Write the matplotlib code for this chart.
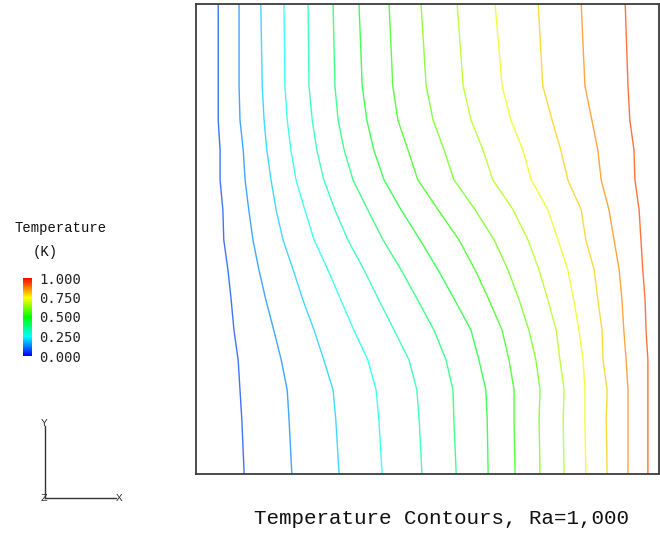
import numpy as np
import matplotlib
matplotlib.use("Agg")
import matplotlib.pyplot as plt
from matplotlib.colors import LinearSegmentedColormap, Normalize, to_rgb
from matplotlib.cm import ScalarMappable

# heights (fraction of cavity height) where each isotherm was read
y_levels = [1.000, 0.826, 0.753, 0.689, 0.626, 0.562, 0.498, 0.434,
            0.370, 0.306, 0.243, 0.179, 0.115, 0.000]

# temperature of each contour line
contour_levels = [0.067, 0.133, 0.200, 0.267, 0.333, 0.400, 0.467,
                  0.533, 0.600, 0.667, 0.733, 0.800, 0.867, 0.933]

# x position (fraction of cavity width) of each isotherm at y_levels
iso_x = [
    [0.048, 0.048, 0.048, 0.052, 0.052, 0.058, 0.060, 0.069, 0.076, 0.082, 0.091, 0.095, 0.099, 0.104],
    [0.093, 0.093, 0.095, 0.102, 0.106, 0.114, 0.123, 0.136, 0.151, 0.168, 0.184, 0.197, 0.201, 0.207],
    [0.140, 0.143, 0.147, 0.153, 0.162, 0.173, 0.188, 0.210, 0.231, 0.255, 0.276, 0.296, 0.302, 0.309],
    [0.190, 0.192, 0.197, 0.205, 0.216, 0.235, 0.255, 0.285, 0.313, 0.341, 0.371, 0.389, 0.395, 0.402],
    [0.242, 0.244, 0.251, 0.261, 0.276, 0.300, 0.328, 0.363, 0.395, 0.428, 0.460, 0.477, 0.482, 0.488],
    [0.296, 0.300, 0.307, 0.320, 0.339, 0.371, 0.404, 0.443, 0.479, 0.514, 0.540, 0.555, 0.557, 0.562],
    [0.352, 0.359, 0.369, 0.384, 0.406, 0.443, 0.484, 0.523, 0.559, 0.594, 0.611, 0.626, 0.629, 0.631],
    [0.417, 0.425, 0.436, 0.458, 0.479, 0.523, 0.568, 0.603, 0.633, 0.661, 0.676, 0.687, 0.687, 0.689],
    [0.486, 0.497, 0.512, 0.536, 0.557, 0.603, 0.644, 0.674, 0.698, 0.719, 0.734, 0.743, 0.741, 0.743],
    [0.564, 0.577, 0.594, 0.620, 0.641, 0.685, 0.717, 0.741, 0.760, 0.778, 0.786, 0.795, 0.793, 0.795],
    [0.646, 0.661, 0.680, 0.706, 0.724, 0.760, 0.782, 0.803, 0.816, 0.827, 0.836, 0.840, 0.840, 0.842],
    [0.739, 0.749, 0.769, 0.788, 0.803, 0.832, 0.842, 0.860, 0.868, 0.877, 0.879, 0.888, 0.886, 0.888],
    [0.832, 0.840, 0.855, 0.868, 0.875, 0.892, 0.903, 0.914, 0.920, 0.924, 0.929, 0.933, 0.933, 0.933],
    [0.927, 0.933, 0.937, 0.946, 0.948, 0.957, 0.961, 0.965, 0.970, 0.972, 0.976, 0.976, 0.976, 0.976],
]

cbar_ticks = [0.0, 0.25, 0.5, 0.75, 1.0]
cbar_labels = ["0.000", "0.250", "0.500", "0.750", "1.000"]

# blue -> cyan -> green -> yellow -> red, like the solver's default map
cmap = LinearSegmentedColormap.from_list(
    "fluent", ["#0000ff", "#00ffff", "#00ff00", "#ffff00", "#ff0000"])

W, H = 660, 535
fig = plt.figure(figsize=(W / 100, H / 100), dpi=100)


def fx(px):
    return px / W


def fy(py):
    return 1 - py / H


def soften(c, k=0.25):
    # thin lines in the original look washed out
    r, g, b = to_rgb(c)
    return (r + (1 - r) * k, g + (1 - g) * k, b + (1 - b) * k)


# cavity
ax = fig.add_axes([fx(196), fy(474), fx(659) - fx(196), fy(4) - fy(474)])
for lev, xs in zip(contour_levels, iso_x):
    ax.plot(xs, y_levels, color=soften(cmap(lev)), lw=1.0,
            solid_joinstyle="round")
ax.set_xlim(0, 1)
ax.set_ylim(0, 1)
ax.set_xticks([])
ax.set_yticks([])
for s in ax.spines.values():
    s.set_color("#3c3c3c")
    s.set_linewidth(1.3)

# colour bar
cax = fig.add_axes([fx(23), fy(356), fx(9), fy(278) - fy(356)])
sm = ScalarMappable(norm=Normalize(0, 1), cmap=cmap)
cb = fig.colorbar(sm, cax=cax, ticks=cbar_ticks)
cb.ax.set_yticklabels(cbar_labels)
cb.ax.tick_params(length=0, pad=5, labelsize=10)
for t in cb.ax.get_yticklabels():
    t.set_fontfamily("DejaVu Sans Mono")
    t.set_color("#222222")
cb.outline.set_visible(False)

fig.text(fx(61), fy(228), "Temperature", ha="center", va="center",
         family="Liberation Mono", fontsize=10, color="#111111")
fig.text(fx(33), fy(252), "(K)", ha="left", va="center",
         family="Liberation Mono", fontsize=10, color="#111111")

# axis triad
fig.add_artist(plt.Line2D([fx(45), fx(45)], [fy(498), fy(426)], color="#333333", lw=1.0))
fig.add_artist(plt.Line2D([fx(45), fx(116)], [fy(498), fy(498)], color="#333333", lw=1.0))
fig.text(fx(44), fy(423), "Y", ha="center", va="center", family="Liberation Mono", fontsize=8, color="#333333")
fig.text(fx(119), fy(498), "X", ha="center", va="center", family="Liberation Mono", fontsize=8, color="#333333")
fig.text(fx(44), fy(498), "Z", ha="center", va="center", family="Liberation Mono", fontsize=8, color="#333333")

fig.text(fx(441), fy(518), "Temperature Contours, Ra=1,000", ha="center", va="center",
         family="Liberation Mono", fontsize=15, color="#111111")

fig.savefig("out.png", dpi=100)
